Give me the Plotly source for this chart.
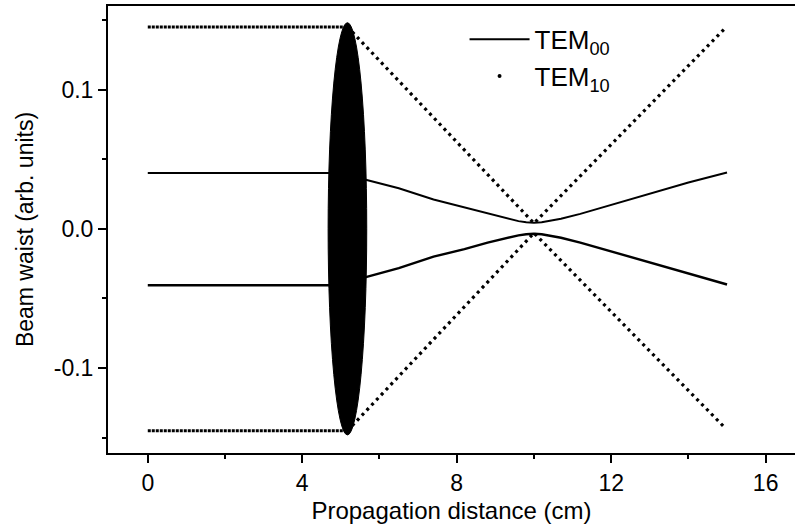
import plotly.graph_objects as go

# ---- data ----
# TEM00 (solid) beam envelope
x00 = [0, 5.0, 5.67, 6.5, 7.4, 8.2, 8.8, 9.3, 9.6, 9.8, 10.0, 10.2, 10.4, 10.7, 11.2, 12.0, 13.0, 14.0, 15.0]
tem00_upper = [0.040, 0.040, 0.035, 0.0291, 0.021, 0.0154, 0.0107, 0.0072, 0.0055, 0.0047, 0.0044,
               0.0047, 0.0055, 0.0072, 0.0107, 0.0170, 0.0251, 0.0332, 0.0405]
tem00_lower = [-0.0405, -0.0405, -0.0345, -0.0283, -0.0200, -0.0146, -0.0099, -0.0064, -0.0047, -0.0039, -0.0035,
               -0.0039, -0.0047, -0.0064, -0.0099, -0.0162, -0.0243, -0.0324, -0.0400]

# TEM10 (dotted) beam envelope: flat part then V through the focus
x10 = [0, 5.17, 10.0, 14.95]
tem10_upper = [0.145, 0.145, 0.004, 0.144]
tem10_lower = [-0.145, -0.145, -0.003, -0.143]

# lens (centre, half width, half height)
lens_center = 5.17
lens_half_width = 0.5
lens_half_height = 0.148

FONT = "Liberation Sans, Arial, sans-serif"
BLACK = "#000000"

fig = go.Figure()

# TEM10 dotted
for ys in (tem10_upper, tem10_lower):
    fig.add_trace(go.Scatter(x=x10[:2], y=ys[:2], mode="lines",
                             line=dict(color=BLACK, width=3, dash="3px,1px"),
                             showlegend=False, hoverinfo="skip"))
    fig.add_trace(go.Scatter(x=x10[1:], y=ys[1:], mode="lines",
                             line=dict(color=BLACK, width=3.2, dash="3px,4px"),
                             showlegend=False, hoverinfo="skip"))

# TEM00 solid
fig.add_trace(go.Scatter(x=x00, y=tem00_upper, mode="lines", line=dict(color=BLACK, width=2),
                         name="TEM<sub>00</sub>"))
fig.add_trace(go.Scatter(x=x00, y=tem00_lower, mode="lines", line=dict(color=BLACK, width=2.4),
                         showlegend=False))

# legend-only marker entry for TEM10
fig.add_trace(go.Scatter(x=[None], y=[None], mode="markers",
                         marker=dict(color=BLACK, size=4), name="TEM<sub>10</sub>"))

# lens
fig.add_shape(type="circle", xref="x", yref="y",
              x0=lens_center - lens_half_width, x1=lens_center + lens_half_width,
              y0=-lens_half_height, y1=lens_half_height,
              fillcolor=BLACK, line=dict(color=BLACK, width=1), layer="above")

fig.update_layout(
    width=795, height=530,
    margin=dict(l=108, r=0, t=6, b=77),
    paper_bgcolor="white", plot_bgcolor="white",
    font=dict(family=FONT, size=23, color=BLACK),
    legend=dict(x=0.519, y=0.978, xanchor="left", yanchor="top",
                bgcolor="rgba(0,0,0,0)", font=dict(size=26),
                itemwidth=60, tracegroupgap=0),
    xaxis=dict(range=[-1.03, 16.76], showgrid=False, zeroline=False,
               showline=True, linecolor=BLACK, linewidth=2, mirror=True,
               tickmode="array", tickvals=[0, 4, 8, 12, 16],
               ticks="outside", ticklen=8, tickwidth=2, tickcolor=BLACK,
               minor=dict(tickvals=[2, 6, 10, 14], ticks="outside", ticklen=4,
                          tickwidth=2, tickcolor=BLACK),
               title=dict(text="Propagation distance (cm)", standoff=8, font=dict(size=24))),
    yaxis=dict(range=[-0.161, 0.160], showgrid=False, zeroline=False,
               showline=True, linecolor=BLACK, linewidth=2,
               tickmode="array", tickvals=[-0.1, 0.0, 0.1], ticktext=["-0.1", "0.0", "0.1"],
               ticks="outside", ticklen=8, tickwidth=2, tickcolor=BLACK,
               minor=dict(tickvals=[-0.15, -0.05, 0.05, 0.15], ticks="outside", ticklen=4,
                          tickwidth=2, tickcolor=BLACK),
               title=dict(text="Beam waist (arb. units)", standoff=14, font=dict(size=23))),
)

fig.write_html("out.html")
